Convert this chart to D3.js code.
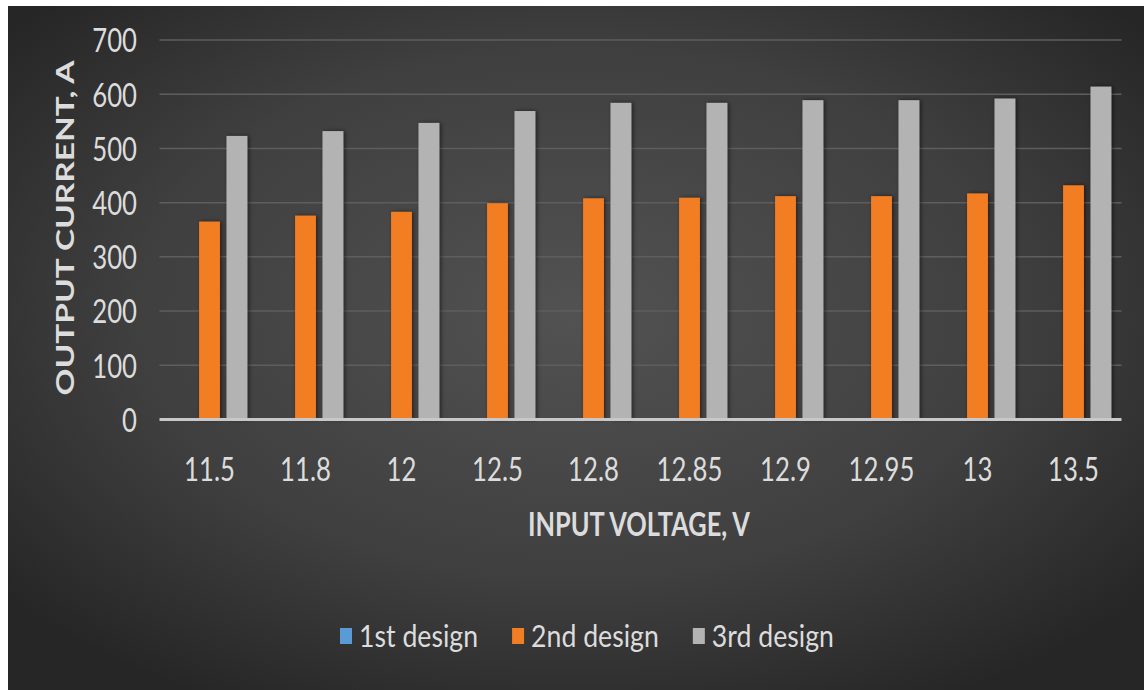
<!DOCTYPE html>
<html>
<head>
<meta charset="utf-8">
<script src="https://cdn.jsdelivr.net/npm/d3@7"></script>
<style>
  html, body { margin: 0; padding: 0; background: #ffffff; }
  svg { display: block; }
</style>
</head>
<body>
<svg id="chart" width="1144" height="690"></svg>
<script>
// Input voltage categories (V)
const voltages = ["11.5", "11.8", "12", "12.5", "12.8", "12.85", "12.9", "12.95", "13", "13.5"];
// Output current per design (A)
const design1 = [0, 0, 0, 0, 0, 0, 0, 0, 0, 0];
const design2 = [365, 376, 383, 399, 408, 409, 412, 412, 417, 432];
const design3 = [523, 532, 547, 569, 584, 584, 589, 589, 592, 614];
const seriesNames = ["1st design", "2nd design", "3rd design"];
const yTicks = [0, 100, 200, 300, 400, 500, 600, 700];

const seriesValues = [design1, design2, design3];
const colors = ["#5b9bd5", "#f27d22", "#b3b3b3"];

const FONT = "Lato, 'Open Sans', sans-serif";
const TEXT_FILL = "#dcdcdc";

const svg = d3.select("#chart");
const W = 1144, H = 690;

// Background panel with radial shading
const defs = svg.append("defs");
const grad = defs.append("radialGradient")
  .attr("id", "bg").attr("cx", "50%").attr("cy", "45%").attr("r", "65%");
grad.append("stop").attr("offset", "0%").attr("stop-color", "#525252");
grad.append("stop").attr("offset", "60%").attr("stop-color", "#3f3f3f");
grad.append("stop").attr("offset", "100%").attr("stop-color", "#262626");

const shadow = defs.append("filter").attr("id", "barShadow")
  .attr("x", "-40%").attr("y", "-10%").attr("width", "180%").attr("height", "120%");
shadow.append("feDropShadow").attr("dx", 1.5).attr("dy", 0)
  .attr("stdDeviation", 2).attr("flood-color", "#000").attr("flood-opacity", 0.55);

svg.append("rect").attr("x", 8).attr("y", 6).attr("width", W - 8).attr("height", H - 6)
  .attr("fill", "url(#bg)");

const plot = { left: 161.5, right: 1121.5, top: 40, bottom: 419.5 };

const x0 = d3.scaleBand().domain(voltages).range([plot.left, plot.right]).padding(0);
const x1 = d3.scaleBand().domain(seriesNames).range([0, x0.bandwidth()])
  .paddingInner(0.24).paddingOuter(0.37);
const y = d3.scaleLinear().domain([0, 700]).range([plot.bottom, plot.top]);

// Narrow the glyphs horizontally around each text's own anchor
function condense(sel, sx) {
  sel.attr("transform", function () {
    const prev = d3.select(this).attr("transform");
    return (prev ? prev + " " : "") + `scale(${sx},1)`;
  });
}

// Horizontal gridlines
svg.append("g")
  .selectAll("line").data(yTicks.filter(d => d > 0)).join("line")
  .attr("x1", plot.left - 2).attr("x2", plot.right)
  .attr("y1", d => y(d)).attr("y2", d => y(d))
  .attr("stroke", "#5e5e5e").attr("stroke-width", 1.5);

// Y axis labels
const yAxis = d3.axisLeft(y).tickValues(yTicks).tickSize(0).tickPadding(0);
const yG = svg.append("g").attr("transform", `translate(137,0)`).call(yAxis);
yG.select(".domain").remove();
yG.selectAll("text")
  .attr("fill", TEXT_FILL)
  .attr("font-family", FONT)
  .attr("font-size", 33)
  .attr("dy", "0.36em")
  .call(condense, 0.78);

// Bars
const groups = svg.append("g").selectAll("g").data(voltages).join("g")
  .attr("transform", d => `translate(${x0(d)},0)`);
groups.selectAll("rect")
  .data((v, i) => seriesNames.map((s, k) => ({ s, value: seriesValues[k][i], k })))
  .join("rect")
  .attr("x", d => x1(d.s))
  .attr("width", x1.bandwidth())
  .attr("y", d => y(d.value))
  .attr("height", d => y(0) - y(d.value))
  .attr("fill", d => colors[d.k])
  .attr("filter", "url(#barShadow)");

// Baseline
svg.append("line")
  .attr("x1", plot.left - 2).attr("x2", plot.right)
  .attr("y1", y(0)).attr("y2", y(0))
  .attr("stroke", "#c8c8c8").attr("stroke-width", 3);

// X axis labels
const xAxis = d3.axisBottom(x0).tickSize(0).tickPadding(0);
const xG = svg.append("g").attr("transform", `translate(0,${469})`).call(xAxis);
xG.select(".domain").remove();
xG.selectAll("text")
  .attr("fill", TEXT_FILL)
  .attr("font-family", FONT)
  .attr("font-size", 33)
  .attr("dy", "0.36em")
  .call(condense, 0.78);

// Axis titles
svg.append("text")
  .attr("x", 639).attr("y", 536)
  .attr("text-anchor", "middle")
  .attr("fill", TEXT_FILL)
  .attr("font-family", FONT)
  .attr("font-weight", "bold")
  .attr("font-size", 32)
  .attr("textLength", 222).attr("lengthAdjust", "spacingAndGlyphs")
  .text("INPUT VOLTAGE, V");

svg.append("text")
  .attr("transform", "translate(74,228) rotate(-90)")
  .attr("text-anchor", "middle")
  .attr("fill", TEXT_FILL)
  .attr("font-family", FONT)
  .attr("font-weight", "bold")
  .attr("font-size", 25)
  .attr("textLength", 335).attr("lengthAdjust", "spacingAndGlyphs")
  .text("OUTPUT CURRENT, A");

// Legend
const legend = svg.append("g").attr("transform", "translate(340,636)");
const legendScale = 0.86;
let lx = 0;
seriesNames.forEach((name, k) => {
  const item = legend.append("g").attr("transform", `translate(${lx},0)`);
  item.append("rect").attr("x", 0).attr("y", -8).attr("width", 12).attr("height", 16)
    .attr("fill", colors[k]);
  const t = item.append("text")
    .attr("transform", `translate(19,0) scale(${legendScale},1)`)
    .attr("dy", "0.36em")
    .attr("fill", TEXT_FILL)
    .attr("font-family", FONT)
    .attr("font-size", 31)
    .text(name);
  lx += 19 + t.node().getComputedTextLength() * legendScale + 34;
});
</script>
</body>
</html>
